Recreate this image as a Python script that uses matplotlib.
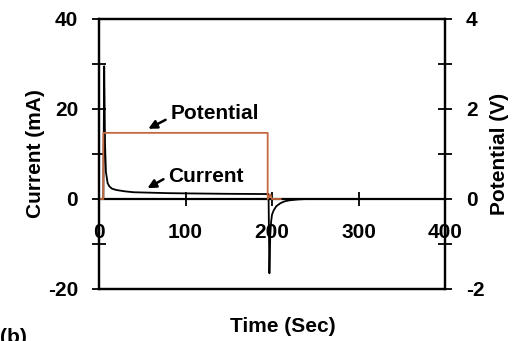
import numpy as np
import matplotlib.pyplot as plt
from matplotlib.ticker import MultipleLocator

plt.rcParams['font.family'] = ['Liberation Sans', 'DejaVu Sans']
plt.rcParams['font.weight'] = 'bold'
plt.rcParams['axes.unicode_minus'] = False

# courant (mA) en fonction du temps (s)
t_cur = [0, 5, 6, 7, 8, 10, 12, 15, 20, 30, 40, 60, 80, 100, 150, 196,
         197, 198, 199, 200, 202, 205, 210, 215, 220, 230, 240, 270]
i_cur = [0, 0, 29.5, 12, 6, 3.5, 2.8, 2.3, 2.0, 1.7, 1.5, 1.4, 1.3, 1.25, 1.15, 1.1,
         -16.5, -8, -5, -3.5, -2.5, -1.6, -0.9, -0.5, -0.3, -0.1, 0, 0]

# potentiel appliqué (V)
t_pot = [0, 5, 5, 195, 195, 198, 200, 210]
v_pot = [0, 0, 1.47, 1.47, 0, 0.1, 0, 0]

fig = plt.figure(figsize=(5.2, 3.41), dpi=100)
ax = fig.add_axes([99 / 520, 1 - 289 / 341, 346 / 520, 270 / 341])
ax2 = ax.twinx()

ax.plot(t_cur, i_cur, color='black', lw=1.3, zorder=3)
ax2.plot(t_pot, v_pot, color='#c4683f', lw=1.3, zorder=2)

ax.set_xlim(0, 400)
ax.set_ylim(-20, 40)
ax2.set_ylim(-2, 4)

# eixo x passa por y=0
ax.spines['bottom'].set_position(('data', 0))
ax.axhline(-20, color='black', lw=1.6, clip_on=False)
for sp in ax.spines.values():
    sp.set_linewidth(1.6)
for sp in ax2.spines.values():
    sp.set_linewidth(1.6)

ax.xaxis.set_major_locator(MultipleLocator(100))
ax.yaxis.set_major_locator(MultipleLocator(20))
ax.yaxis.set_minor_locator(MultipleLocator(10))
ax2.yaxis.set_major_locator(MultipleLocator(2))
ax2.yaxis.set_minor_locator(MultipleLocator(1))

ax.tick_params(axis='x', which='major', direction='inout', length=10, width=1.3,
               labelsize=15, pad=12)
ax.tick_params(axis='y', which='both', direction='inout', length=10, width=1.3,
               labelsize=15, pad=10)
ax2.tick_params(axis='y', which='both', direction='inout', length=10, width=1.3,
                labelsize=15, pad=10)

ax.set_ylabel('Current (mA)', fontsize=15, fontweight='bold', labelpad=2)
ax2.set_ylabel('Potential (V)', fontsize=15, fontweight='bold', labelpad=4)
fig.text(283 / 520, 1 - 326 / 341, 'Time (Sec)', fontsize=15, fontweight='bold',
         ha='center', va='center')
fig.text(0.0, 1 - 328 / 341, '(b)', fontsize=15, fontweight='bold',
         ha='left', va='top')

# rótulos e setas
ax.text(83, 19.0, 'Potential', fontsize=15, fontweight='bold', va='center', ha='left')
ax.text(80, 5.1, 'Current', fontsize=15, fontweight='bold', va='center', ha='left')
arrow = dict(arrowstyle='-|>,head_length=0.5,head_width=0.25', color='black', lw=1.8,
             shrinkA=0, shrinkB=0)
ax.annotate('', xy=(57, 15.6), xytext=(77, 17.6), arrowprops=arrow)
ax.annotate('', xy=(56, 2.4), xytext=(74.5, 4.4), arrowprops=arrow)

fig.savefig('out.png', dpi=100)
